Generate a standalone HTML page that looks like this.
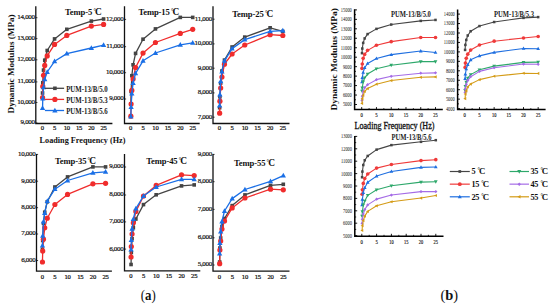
<!DOCTYPE html>
<html><head><meta charset="utf-8"><style>
html,body{margin:0;padding:0;background:#fff;}
body{width:550px;height:305px;overflow:hidden;}
svg{display:block;}
</style></head><body>
<svg width="550" height="305" viewBox="0 0 550 305">
<rect width="550" height="305" fill="#fff"/>
<g font-family="&quot;Liberation Serif&quot;, serif">
<path d="M35.8,6.3 V123.5 H112.4" fill="none" stroke="#111" stroke-width="1.3"/>
<path d="M35.8,17.7 H37.40" stroke="#111" stroke-width="0.8"/>
<text x="34.70" y="19.10" font-size="7" text-anchor="end" fill="#111" stroke="#111" stroke-width="0.2" letter-spacing="-0.32">14,000</text>
<path d="M35.8,38.6 H37.40" stroke="#111" stroke-width="0.8"/>
<text x="34.70" y="40.00" font-size="7" text-anchor="end" fill="#111" stroke="#111" stroke-width="0.2" letter-spacing="-0.32">13,000</text>
<path d="M35.8,59.8 H37.40" stroke="#111" stroke-width="0.8"/>
<text x="34.70" y="61.20" font-size="7" text-anchor="end" fill="#111" stroke="#111" stroke-width="0.2" letter-spacing="-0.32">12,000</text>
<path d="M35.8,81.9 H37.40" stroke="#111" stroke-width="0.8"/>
<text x="34.70" y="83.30" font-size="7" text-anchor="end" fill="#111" stroke="#111" stroke-width="0.2" letter-spacing="-0.32">11,000</text>
<path d="M35.8,102.5 H37.40" stroke="#111" stroke-width="0.8"/>
<text x="34.70" y="103.90" font-size="7" text-anchor="end" fill="#111" stroke="#111" stroke-width="0.2" letter-spacing="-0.32">10,000</text>
<path d="M35.8,123.0 H37.40" stroke="#111" stroke-width="0.8"/>
<text x="34.70" y="124.40" font-size="7" text-anchor="end" fill="#111" stroke="#111" stroke-width="0.2" letter-spacing="-0.32">9,000</text>
<text x="42.30" y="130.4" font-size="6.6" text-anchor="middle" fill="#111" stroke="#111" stroke-width="0.22" letter-spacing="-0.2">0</text>
<text x="54.56" y="130.4" font-size="6.6" text-anchor="middle" fill="#111" stroke="#111" stroke-width="0.22" letter-spacing="-0.2">5</text>
<text x="66.82" y="130.4" font-size="6.6" text-anchor="middle" fill="#111" stroke="#111" stroke-width="0.22" letter-spacing="-0.2">10</text>
<text x="79.08" y="130.4" font-size="6.6" text-anchor="middle" fill="#111" stroke="#111" stroke-width="0.22" letter-spacing="-0.2">15</text>
<text x="91.34" y="130.4" font-size="6.6" text-anchor="middle" fill="#111" stroke="#111" stroke-width="0.22" letter-spacing="-0.2">20</text>
<text x="103.60" y="130.4" font-size="6.6" text-anchor="middle" fill="#111" stroke="#111" stroke-width="0.22" letter-spacing="-0.2">25</text>
<text x="65" y="15.3" font-size="8.6" font-weight="bold" fill="#111" letter-spacing="-0.12">Temp-5<tspan dx="1.3" font-size="6.2" dy="-1.9">°</tspan><tspan dx="-0.8" dy="1.9" font-size="9.4">C</tspan></text>
<polyline points="42.55,93.00 42.79,82.70 43.53,70.10 44.75,60.20 47.20,50.50 54.56,38.90 66.82,29.30 91.34,21.10 103.60,19.00" fill="none" stroke="#444444" stroke-width="1.3" stroke-linejoin="round"/>
<rect x="40.75" y="91.20" width="3.6" height="3.6" fill="#444444"/>
<rect x="40.99" y="80.90" width="3.6" height="3.6" fill="#444444"/>
<rect x="41.73" y="68.30" width="3.6" height="3.6" fill="#444444"/>
<rect x="42.95" y="58.40" width="3.6" height="3.6" fill="#444444"/>
<rect x="45.40" y="48.70" width="3.6" height="3.6" fill="#444444"/>
<rect x="52.76" y="37.10" width="3.6" height="3.6" fill="#444444"/>
<rect x="65.02" y="27.50" width="3.6" height="3.6" fill="#444444"/>
<rect x="89.54" y="19.30" width="3.6" height="3.6" fill="#444444"/>
<rect x="101.80" y="17.20" width="3.6" height="3.6" fill="#444444"/>
<polyline points="42.55,97.60 42.79,86.40 43.53,75.30 44.75,65.40 47.20,55.90 54.56,44.40 66.82,35.40 91.34,26.10 103.60,24.40" fill="none" stroke="#f02c2c" stroke-width="1.3" stroke-linejoin="round"/>
<circle cx="42.55" cy="97.60" r="2.6" fill="#f02c2c"/>
<circle cx="42.79" cy="86.40" r="2.6" fill="#f02c2c"/>
<circle cx="43.53" cy="75.30" r="2.6" fill="#f02c2c"/>
<circle cx="44.75" cy="65.40" r="2.6" fill="#f02c2c"/>
<circle cx="47.20" cy="55.90" r="2.6" fill="#f02c2c"/>
<circle cx="54.56" cy="44.40" r="2.6" fill="#f02c2c"/>
<circle cx="66.82" cy="35.40" r="2.6" fill="#f02c2c"/>
<circle cx="91.34" cy="26.10" r="2.6" fill="#f02c2c"/>
<circle cx="103.60" cy="24.40" r="2.6" fill="#f02c2c"/>
<polyline points="42.55,108.20 42.79,98.60 43.53,87.40 44.75,79.30 47.20,72.00 54.56,61.30 66.82,53.60 91.34,48.00 103.60,45.20" fill="none" stroke="#1a6fe6" stroke-width="1.3" stroke-linejoin="round"/>
<polygon points="42.55,105.34 39.90,110.11 45.20,110.11" fill="#1a6fe6"/>
<polygon points="42.79,95.74 40.14,100.51 45.44,100.51" fill="#1a6fe6"/>
<polygon points="43.53,84.54 40.88,89.31 46.18,89.31" fill="#1a6fe6"/>
<polygon points="44.75,76.44 42.10,81.21 47.40,81.21" fill="#1a6fe6"/>
<polygon points="47.20,69.14 44.55,73.91 49.85,73.91" fill="#1a6fe6"/>
<polygon points="54.56,58.44 51.91,63.21 57.21,63.21" fill="#1a6fe6"/>
<polygon points="66.82,50.74 64.17,55.51 69.47,55.51" fill="#1a6fe6"/>
<polygon points="91.34,45.14 88.69,49.91 93.99,49.91" fill="#1a6fe6"/>
<polygon points="103.60,42.34 100.95,47.11 106.25,47.11" fill="#1a6fe6"/>
<path d="M124.5,6.3 V123.5 H199.7" fill="none" stroke="#111" stroke-width="1.3"/>
<path d="M124.5,19.4 H126.10" stroke="#111" stroke-width="0.8"/>
<text x="123.40" y="20.80" font-size="7" text-anchor="end" fill="#111" stroke="#111" stroke-width="0.2" letter-spacing="-0.32">12,000</text>
<path d="M124.5,46.7 H126.10" stroke="#111" stroke-width="0.8"/>
<text x="123.40" y="48.10" font-size="7" text-anchor="end" fill="#111" stroke="#111" stroke-width="0.2" letter-spacing="-0.32">11,000</text>
<path d="M124.5,72.7 H126.10" stroke="#111" stroke-width="0.8"/>
<text x="123.40" y="74.10" font-size="7" text-anchor="end" fill="#111" stroke="#111" stroke-width="0.2" letter-spacing="-0.32">10,000</text>
<path d="M124.5,99.0 H126.10" stroke="#111" stroke-width="0.8"/>
<text x="123.40" y="100.40" font-size="7" text-anchor="end" fill="#111" stroke="#111" stroke-width="0.2" letter-spacing="-0.32">9,000</text>
<text x="130.60" y="130.4" font-size="6.6" text-anchor="middle" fill="#111" stroke="#111" stroke-width="0.22" letter-spacing="-0.2">0</text>
<text x="143.03" y="130.4" font-size="6.6" text-anchor="middle" fill="#111" stroke="#111" stroke-width="0.22" letter-spacing="-0.2">5</text>
<text x="155.45" y="130.4" font-size="6.6" text-anchor="middle" fill="#111" stroke="#111" stroke-width="0.22" letter-spacing="-0.2">10</text>
<text x="167.88" y="130.4" font-size="6.6" text-anchor="middle" fill="#111" stroke="#111" stroke-width="0.22" letter-spacing="-0.2">15</text>
<text x="180.30" y="130.4" font-size="6.6" text-anchor="middle" fill="#111" stroke="#111" stroke-width="0.22" letter-spacing="-0.2">20</text>
<text x="192.72" y="130.4" font-size="6.6" text-anchor="middle" fill="#111" stroke="#111" stroke-width="0.22" letter-spacing="-0.2">25</text>
<text x="138.4" y="15.3" font-size="8.6" font-weight="bold" fill="#111" letter-spacing="-0.12">Temp-15<tspan dx="1.3" font-size="6.2" dy="-1.9">°</tspan><tspan dx="-0.8" dy="1.9" font-size="9.4">C</tspan></text>
<polyline points="130.85,104.00 131.10,91.50 131.84,75.70 133.09,64.80 135.57,53.40 143.03,39.20 155.45,28.90 180.30,17.40 192.72,17.40" fill="none" stroke="#444444" stroke-width="1.3" stroke-linejoin="round"/>
<rect x="129.05" y="102.20" width="3.6" height="3.6" fill="#444444"/>
<rect x="129.30" y="89.70" width="3.6" height="3.6" fill="#444444"/>
<rect x="130.04" y="73.90" width="3.6" height="3.6" fill="#444444"/>
<rect x="131.28" y="63.00" width="3.6" height="3.6" fill="#444444"/>
<rect x="133.77" y="51.60" width="3.6" height="3.6" fill="#444444"/>
<rect x="141.22" y="37.40" width="3.6" height="3.6" fill="#444444"/>
<rect x="153.65" y="27.10" width="3.6" height="3.6" fill="#444444"/>
<rect x="178.50" y="15.60" width="3.6" height="3.6" fill="#444444"/>
<rect x="190.92" y="15.60" width="3.6" height="3.6" fill="#444444"/>
<polyline points="130.85,116.20 131.10,104.00 131.84,90.40 133.09,78.90 135.57,67.50 143.03,53.10 155.45,42.50 180.30,33.40 192.72,29.30" fill="none" stroke="#f02c2c" stroke-width="1.3" stroke-linejoin="round"/>
<circle cx="130.85" cy="116.20" r="2.6" fill="#f02c2c"/>
<circle cx="131.10" cy="104.00" r="2.6" fill="#f02c2c"/>
<circle cx="131.84" cy="90.40" r="2.6" fill="#f02c2c"/>
<circle cx="133.09" cy="78.90" r="2.6" fill="#f02c2c"/>
<circle cx="135.57" cy="67.50" r="2.6" fill="#f02c2c"/>
<circle cx="143.03" cy="53.10" r="2.6" fill="#f02c2c"/>
<circle cx="155.45" cy="42.50" r="2.6" fill="#f02c2c"/>
<circle cx="180.30" cy="33.40" r="2.6" fill="#f02c2c"/>
<circle cx="192.72" cy="29.30" r="2.6" fill="#f02c2c"/>
<polyline points="130.85,116.70 131.10,107.20 131.84,93.60 133.09,83.10 135.57,73.40 143.03,60.80 155.45,53.00 180.30,44.80 192.72,42.80" fill="none" stroke="#1a6fe6" stroke-width="1.3" stroke-linejoin="round"/>
<polygon points="130.85,113.84 128.20,118.61 133.50,118.61" fill="#1a6fe6"/>
<polygon points="131.10,104.34 128.45,109.11 133.75,109.11" fill="#1a6fe6"/>
<polygon points="131.84,90.74 129.19,95.51 134.49,95.51" fill="#1a6fe6"/>
<polygon points="133.09,80.24 130.44,85.01 135.74,85.01" fill="#1a6fe6"/>
<polygon points="135.57,70.54 132.92,75.31 138.22,75.31" fill="#1a6fe6"/>
<polygon points="143.03,57.94 140.38,62.71 145.68,62.71" fill="#1a6fe6"/>
<polygon points="155.45,50.14 152.80,54.91 158.10,54.91" fill="#1a6fe6"/>
<polygon points="180.30,41.94 177.65,46.71 182.95,46.71" fill="#1a6fe6"/>
<polygon points="192.72,39.94 190.07,44.71 195.38,44.71" fill="#1a6fe6"/>
<path d="M213.0,6.3 V123.5 H289.5" fill="none" stroke="#111" stroke-width="1.3"/>
<path d="M213.0,19.2 H214.60" stroke="#111" stroke-width="0.8"/>
<text x="211.90" y="20.60" font-size="7" text-anchor="end" fill="#111" stroke="#111" stroke-width="0.2" letter-spacing="-0.32">11,000</text>
<path d="M213.0,43.9 H214.60" stroke="#111" stroke-width="0.8"/>
<text x="211.90" y="45.30" font-size="7" text-anchor="end" fill="#111" stroke="#111" stroke-width="0.2" letter-spacing="-0.32">10,000</text>
<path d="M213.0,68.2 H214.60" stroke="#111" stroke-width="0.8"/>
<text x="211.90" y="69.60" font-size="7" text-anchor="end" fill="#111" stroke="#111" stroke-width="0.2" letter-spacing="-0.32">9,000</text>
<path d="M213.0,92.9 H214.60" stroke="#111" stroke-width="0.8"/>
<text x="211.90" y="94.30" font-size="7" text-anchor="end" fill="#111" stroke="#111" stroke-width="0.2" letter-spacing="-0.32">8,000</text>
<path d="M213.0,117.2 H214.60" stroke="#111" stroke-width="0.8"/>
<text x="211.90" y="118.60" font-size="7" text-anchor="end" fill="#111" stroke="#111" stroke-width="0.2" letter-spacing="-0.32">7,000</text>
<text x="219.40" y="130.4" font-size="6.6" text-anchor="middle" fill="#111" stroke="#111" stroke-width="0.22" letter-spacing="-0.2">0</text>
<text x="232.08" y="130.4" font-size="6.6" text-anchor="middle" fill="#111" stroke="#111" stroke-width="0.22" letter-spacing="-0.2">5</text>
<text x="244.76" y="130.4" font-size="6.6" text-anchor="middle" fill="#111" stroke="#111" stroke-width="0.22" letter-spacing="-0.2">10</text>
<text x="257.44" y="130.4" font-size="6.6" text-anchor="middle" fill="#111" stroke="#111" stroke-width="0.22" letter-spacing="-0.2">15</text>
<text x="270.12" y="130.4" font-size="6.6" text-anchor="middle" fill="#111" stroke="#111" stroke-width="0.22" letter-spacing="-0.2">20</text>
<text x="282.80" y="130.4" font-size="6.6" text-anchor="middle" fill="#111" stroke="#111" stroke-width="0.22" letter-spacing="-0.2">25</text>
<text x="232.3" y="17.1" font-size="8.6" font-weight="bold" fill="#111" letter-spacing="-0.12">Temp-25<tspan dx="1.3" font-size="6.2" dy="-1.9">°</tspan><tspan dx="-0.8" dy="1.9" font-size="9.4">C</tspan></text>
<polyline points="219.65,107.70 219.91,96.80 220.67,83.10 221.94,71.00 224.47,60.10 232.08,47.00 244.76,37.10 270.12,27.80 282.80,31.40" fill="none" stroke="#444444" stroke-width="1.3" stroke-linejoin="round"/>
<rect x="217.85" y="105.90" width="3.6" height="3.6" fill="#444444"/>
<rect x="218.11" y="95.00" width="3.6" height="3.6" fill="#444444"/>
<rect x="218.87" y="81.30" width="3.6" height="3.6" fill="#444444"/>
<rect x="220.14" y="69.20" width="3.6" height="3.6" fill="#444444"/>
<rect x="222.67" y="58.30" width="3.6" height="3.6" fill="#444444"/>
<rect x="230.28" y="45.20" width="3.6" height="3.6" fill="#444444"/>
<rect x="242.96" y="35.30" width="3.6" height="3.6" fill="#444444"/>
<rect x="268.32" y="26.00" width="3.6" height="3.6" fill="#444444"/>
<rect x="281.00" y="29.60" width="3.6" height="3.6" fill="#444444"/>
<polyline points="219.65,113.20 219.91,101.20 220.67,88.00 221.94,77.00 224.47,64.20 232.08,54.00 244.76,45.00 270.12,34.70 282.80,35.50" fill="none" stroke="#f02c2c" stroke-width="1.3" stroke-linejoin="round"/>
<circle cx="219.65" cy="113.20" r="2.6" fill="#f02c2c"/>
<circle cx="219.91" cy="101.20" r="2.6" fill="#f02c2c"/>
<circle cx="220.67" cy="88.00" r="2.6" fill="#f02c2c"/>
<circle cx="221.94" cy="77.00" r="2.6" fill="#f02c2c"/>
<circle cx="224.47" cy="64.20" r="2.6" fill="#f02c2c"/>
<circle cx="232.08" cy="54.00" r="2.6" fill="#f02c2c"/>
<circle cx="244.76" cy="45.00" r="2.6" fill="#f02c2c"/>
<circle cx="270.12" cy="34.70" r="2.6" fill="#f02c2c"/>
<circle cx="282.80" cy="35.50" r="2.6" fill="#f02c2c"/>
<polyline points="219.65,105.50 219.91,94.60 220.67,81.40 221.94,71.50 224.47,60.90 232.08,48.60 244.76,39.60 270.12,31.40 282.80,30.60" fill="none" stroke="#1a6fe6" stroke-width="1.3" stroke-linejoin="round"/>
<polygon points="219.65,102.64 217.00,107.41 222.30,107.41" fill="#1a6fe6"/>
<polygon points="219.91,91.74 217.26,96.51 222.56,96.51" fill="#1a6fe6"/>
<polygon points="220.67,78.54 218.02,83.31 223.32,83.31" fill="#1a6fe6"/>
<polygon points="221.94,68.64 219.29,73.41 224.59,73.41" fill="#1a6fe6"/>
<polygon points="224.47,58.04 221.82,62.81 227.12,62.81" fill="#1a6fe6"/>
<polygon points="232.08,45.74 229.43,50.51 234.73,50.51" fill="#1a6fe6"/>
<polygon points="244.76,36.74 242.11,41.51 247.41,41.51" fill="#1a6fe6"/>
<polygon points="270.12,28.54 267.47,33.31 272.77,33.31" fill="#1a6fe6"/>
<polygon points="282.80,27.74 280.15,32.51 285.45,32.51" fill="#1a6fe6"/>
<path d="M36.5,154 V271.1 H111.9" fill="none" stroke="#111" stroke-width="1.3"/>
<path d="M36.5,154.4 H38.10" stroke="#111" stroke-width="0.8"/>
<text x="35.40" y="155.80" font-size="7" text-anchor="end" fill="#111" stroke="#111" stroke-width="0.2" letter-spacing="-0.32">10,000</text>
<path d="M36.5,181.2 H38.10" stroke="#111" stroke-width="0.8"/>
<text x="35.40" y="182.60" font-size="7" text-anchor="end" fill="#111" stroke="#111" stroke-width="0.2" letter-spacing="-0.32">9,000</text>
<path d="M36.5,207.7 H38.10" stroke="#111" stroke-width="0.8"/>
<text x="35.40" y="209.10" font-size="7" text-anchor="end" fill="#111" stroke="#111" stroke-width="0.2" letter-spacing="-0.32">8,000</text>
<path d="M36.5,234.0 H38.10" stroke="#111" stroke-width="0.8"/>
<text x="35.40" y="235.40" font-size="7" text-anchor="end" fill="#111" stroke="#111" stroke-width="0.2" letter-spacing="-0.32">7,000</text>
<path d="M36.5,260.5 H38.10" stroke="#111" stroke-width="0.8"/>
<text x="35.40" y="261.90" font-size="7" text-anchor="end" fill="#111" stroke="#111" stroke-width="0.2" letter-spacing="-0.32">6,000</text>
<text x="42.20" y="278.5" font-size="6.6" text-anchor="middle" fill="#111" stroke="#111" stroke-width="0.22" letter-spacing="-0.2">0</text>
<text x="54.88" y="278.5" font-size="6.6" text-anchor="middle" fill="#111" stroke="#111" stroke-width="0.22" letter-spacing="-0.2">5</text>
<text x="67.55" y="278.5" font-size="6.6" text-anchor="middle" fill="#111" stroke="#111" stroke-width="0.22" letter-spacing="-0.2">10</text>
<text x="80.23" y="278.5" font-size="6.6" text-anchor="middle" fill="#111" stroke="#111" stroke-width="0.22" letter-spacing="-0.2">15</text>
<text x="92.90" y="278.5" font-size="6.6" text-anchor="middle" fill="#111" stroke="#111" stroke-width="0.22" letter-spacing="-0.2">20</text>
<text x="105.58" y="278.5" font-size="6.6" text-anchor="middle" fill="#111" stroke="#111" stroke-width="0.22" letter-spacing="-0.2">25</text>
<text x="55" y="163.89999999999998" font-size="8.6" font-weight="bold" fill="#111" letter-spacing="-0.12">Temp-35<tspan dx="1.3" font-size="6.2" dy="-1.9">°</tspan><tspan dx="-0.8" dy="1.9" font-size="9.4">C</tspan></text>
<polyline points="42.45,249.30 42.71,240.50 43.47,223.30 44.73,212.20 47.27,201.80 54.88,187.00 67.55,176.90 92.90,166.90 105.58,166.90" fill="none" stroke="#444444" stroke-width="1.3" stroke-linejoin="round"/>
<rect x="40.65" y="247.50" width="3.6" height="3.6" fill="#444444"/>
<rect x="40.91" y="238.70" width="3.6" height="3.6" fill="#444444"/>
<rect x="41.67" y="221.50" width="3.6" height="3.6" fill="#444444"/>
<rect x="42.94" y="210.40" width="3.6" height="3.6" fill="#444444"/>
<rect x="45.47" y="200.00" width="3.6" height="3.6" fill="#444444"/>
<rect x="53.08" y="185.20" width="3.6" height="3.6" fill="#444444"/>
<rect x="65.75" y="175.10" width="3.6" height="3.6" fill="#444444"/>
<rect x="91.10" y="165.10" width="3.6" height="3.6" fill="#444444"/>
<rect x="103.78" y="165.10" width="3.6" height="3.6" fill="#444444"/>
<polyline points="42.45,262.00 42.71,251.10 43.47,239.20 44.73,227.80 47.27,218.20 54.88,204.50 67.55,194.40 92.90,183.80 105.58,183.30" fill="none" stroke="#f02c2c" stroke-width="1.3" stroke-linejoin="round"/>
<circle cx="42.45" cy="262.00" r="2.6" fill="#f02c2c"/>
<circle cx="42.71" cy="251.10" r="2.6" fill="#f02c2c"/>
<circle cx="43.47" cy="239.20" r="2.6" fill="#f02c2c"/>
<circle cx="44.73" cy="227.80" r="2.6" fill="#f02c2c"/>
<circle cx="47.27" cy="218.20" r="2.6" fill="#f02c2c"/>
<circle cx="54.88" cy="204.50" r="2.6" fill="#f02c2c"/>
<circle cx="67.55" cy="194.40" r="2.6" fill="#f02c2c"/>
<circle cx="92.90" cy="183.80" r="2.6" fill="#f02c2c"/>
<circle cx="105.58" cy="183.30" r="2.6" fill="#f02c2c"/>
<polyline points="42.45,245.50 42.71,235.90 43.47,221.50 44.73,213.20 47.27,201.00 54.88,189.20 67.55,180.50 92.90,172.80 105.58,171.80" fill="none" stroke="#1a6fe6" stroke-width="1.3" stroke-linejoin="round"/>
<polygon points="42.45,242.64 39.80,247.41 45.10,247.41" fill="#1a6fe6"/>
<polygon points="42.71,233.04 40.06,237.81 45.36,237.81" fill="#1a6fe6"/>
<polygon points="43.47,218.64 40.82,223.41 46.12,223.41" fill="#1a6fe6"/>
<polygon points="44.73,210.34 42.09,215.11 47.38,215.11" fill="#1a6fe6"/>
<polygon points="47.27,198.14 44.62,202.91 49.92,202.91" fill="#1a6fe6"/>
<polygon points="54.88,186.34 52.23,191.11 57.52,191.11" fill="#1a6fe6"/>
<polygon points="67.55,177.64 64.90,182.41 70.20,182.41" fill="#1a6fe6"/>
<polygon points="92.90,169.94 90.25,174.71 95.55,174.71" fill="#1a6fe6"/>
<polygon points="105.58,168.94 102.92,173.71 108.23,173.71" fill="#1a6fe6"/>
<path d="M124.5,154 V270.8 H200.3" fill="none" stroke="#111" stroke-width="1.3"/>
<path d="M124.5,167.0 H126.10" stroke="#111" stroke-width="0.8"/>
<text x="123.40" y="168.40" font-size="7" text-anchor="end" fill="#111" stroke="#111" stroke-width="0.2" letter-spacing="-0.32">9,000</text>
<path d="M124.5,195.0 H126.10" stroke="#111" stroke-width="0.8"/>
<text x="123.40" y="196.40" font-size="7" text-anchor="end" fill="#111" stroke="#111" stroke-width="0.2" letter-spacing="-0.32">8,000</text>
<path d="M124.5,221.9 H126.10" stroke="#111" stroke-width="0.8"/>
<text x="123.40" y="223.30" font-size="7" text-anchor="end" fill="#111" stroke="#111" stroke-width="0.2" letter-spacing="-0.32">7,000</text>
<path d="M124.5,249.1 H126.10" stroke="#111" stroke-width="0.8"/>
<text x="123.40" y="250.50" font-size="7" text-anchor="end" fill="#111" stroke="#111" stroke-width="0.2" letter-spacing="-0.32">6,000</text>
<text x="130.80" y="278.2" font-size="6.6" text-anchor="middle" fill="#111" stroke="#111" stroke-width="0.22" letter-spacing="-0.2">0</text>
<text x="143.48" y="278.2" font-size="6.6" text-anchor="middle" fill="#111" stroke="#111" stroke-width="0.22" letter-spacing="-0.2">5</text>
<text x="156.16" y="278.2" font-size="6.6" text-anchor="middle" fill="#111" stroke="#111" stroke-width="0.22" letter-spacing="-0.2">10</text>
<text x="168.84" y="278.2" font-size="6.6" text-anchor="middle" fill="#111" stroke="#111" stroke-width="0.22" letter-spacing="-0.2">15</text>
<text x="181.52" y="278.2" font-size="6.6" text-anchor="middle" fill="#111" stroke="#111" stroke-width="0.22" letter-spacing="-0.2">20</text>
<text x="194.20" y="278.2" font-size="6.6" text-anchor="middle" fill="#111" stroke="#111" stroke-width="0.22" letter-spacing="-0.2">25</text>
<text x="146.2" y="164.29999999999998" font-size="8.6" font-weight="bold" fill="#111" letter-spacing="-0.12">Temp-45<tspan dx="1.3" font-size="6.2" dy="-1.9">°</tspan><tspan dx="-0.8" dy="1.9" font-size="9.4">C</tspan></text>
<polyline points="131.05,264.50 131.31,252.50 132.07,238.80 133.34,227.80 135.87,219.00 143.48,204.60 156.16,194.80 181.52,185.90 194.20,184.90" fill="none" stroke="#444444" stroke-width="1.3" stroke-linejoin="round"/>
<rect x="129.25" y="262.70" width="3.6" height="3.6" fill="#444444"/>
<rect x="129.51" y="250.70" width="3.6" height="3.6" fill="#444444"/>
<rect x="130.27" y="237.00" width="3.6" height="3.6" fill="#444444"/>
<rect x="131.54" y="226.00" width="3.6" height="3.6" fill="#444444"/>
<rect x="134.07" y="217.20" width="3.6" height="3.6" fill="#444444"/>
<rect x="141.68" y="202.80" width="3.6" height="3.6" fill="#444444"/>
<rect x="154.36" y="193.00" width="3.6" height="3.6" fill="#444444"/>
<rect x="179.72" y="184.10" width="3.6" height="3.6" fill="#444444"/>
<rect x="192.40" y="183.10" width="3.6" height="3.6" fill="#444444"/>
<polyline points="131.05,257.00 131.31,246.50 132.07,234.00 133.34,222.80 135.87,211.40 143.48,196.10 156.16,185.40 181.52,174.80 194.20,175.60" fill="none" stroke="#f02c2c" stroke-width="1.3" stroke-linejoin="round"/>
<circle cx="131.05" cy="257.00" r="2.6" fill="#f02c2c"/>
<circle cx="131.31" cy="246.50" r="2.6" fill="#f02c2c"/>
<circle cx="132.07" cy="234.00" r="2.6" fill="#f02c2c"/>
<circle cx="133.34" cy="222.80" r="2.6" fill="#f02c2c"/>
<circle cx="135.87" cy="211.40" r="2.6" fill="#f02c2c"/>
<circle cx="143.48" cy="196.10" r="2.6" fill="#f02c2c"/>
<circle cx="156.16" cy="185.40" r="2.6" fill="#f02c2c"/>
<circle cx="181.52" cy="174.80" r="2.6" fill="#f02c2c"/>
<circle cx="194.20" cy="175.60" r="2.6" fill="#f02c2c"/>
<polyline points="131.05,249.60 131.31,240.20 132.07,228.80 133.34,219.00 135.87,208.70 143.48,196.00 156.16,187.00 181.52,179.30 194.20,179.30" fill="none" stroke="#1a6fe6" stroke-width="1.3" stroke-linejoin="round"/>
<polygon points="131.05,246.74 128.40,251.51 133.70,251.51" fill="#1a6fe6"/>
<polygon points="131.31,237.34 128.66,242.11 133.96,242.11" fill="#1a6fe6"/>
<polygon points="132.07,225.94 129.42,230.71 134.72,230.71" fill="#1a6fe6"/>
<polygon points="133.34,216.14 130.69,220.91 135.99,220.91" fill="#1a6fe6"/>
<polygon points="135.87,205.84 133.22,210.61 138.52,210.61" fill="#1a6fe6"/>
<polygon points="143.48,193.14 140.83,197.91 146.13,197.91" fill="#1a6fe6"/>
<polygon points="156.16,184.14 153.51,188.91 158.81,188.91" fill="#1a6fe6"/>
<polygon points="181.52,176.44 178.87,181.21 184.17,181.21" fill="#1a6fe6"/>
<polygon points="194.20,176.44 191.55,181.21 196.85,181.21" fill="#1a6fe6"/>
<path d="M213.0,154 V271.1 H289.5" fill="none" stroke="#111" stroke-width="1.3"/>
<path d="M213.0,154.4 H214.60" stroke="#111" stroke-width="0.8"/>
<text x="211.90" y="155.80" font-size="7" text-anchor="end" fill="#111" stroke="#111" stroke-width="0.2" letter-spacing="-0.32">9,000</text>
<path d="M213.0,181.7 H214.60" stroke="#111" stroke-width="0.8"/>
<text x="211.90" y="183.10" font-size="7" text-anchor="end" fill="#111" stroke="#111" stroke-width="0.2" letter-spacing="-0.32">8,000</text>
<path d="M213.0,209.4 H214.60" stroke="#111" stroke-width="0.8"/>
<text x="211.90" y="210.80" font-size="7" text-anchor="end" fill="#111" stroke="#111" stroke-width="0.2" letter-spacing="-0.32">7,000</text>
<path d="M213.0,237.8 H214.60" stroke="#111" stroke-width="0.8"/>
<text x="211.90" y="239.20" font-size="7" text-anchor="end" fill="#111" stroke="#111" stroke-width="0.2" letter-spacing="-0.32">6,000</text>
<path d="M213.0,265.0 H214.60" stroke="#111" stroke-width="0.8"/>
<text x="211.90" y="266.40" font-size="7" text-anchor="end" fill="#111" stroke="#111" stroke-width="0.2" letter-spacing="-0.32">5,000</text>
<text x="219.40" y="278.5" font-size="6.6" text-anchor="middle" fill="#111" stroke="#111" stroke-width="0.22" letter-spacing="-0.2">0</text>
<text x="232.18" y="278.5" font-size="6.6" text-anchor="middle" fill="#111" stroke="#111" stroke-width="0.22" letter-spacing="-0.2">5</text>
<text x="244.96" y="278.5" font-size="6.6" text-anchor="middle" fill="#111" stroke="#111" stroke-width="0.22" letter-spacing="-0.2">10</text>
<text x="257.74" y="278.5" font-size="6.6" text-anchor="middle" fill="#111" stroke="#111" stroke-width="0.22" letter-spacing="-0.2">15</text>
<text x="270.52" y="278.5" font-size="6.6" text-anchor="middle" fill="#111" stroke="#111" stroke-width="0.22" letter-spacing="-0.2">20</text>
<text x="283.30" y="278.5" font-size="6.6" text-anchor="middle" fill="#111" stroke="#111" stroke-width="0.22" letter-spacing="-0.2">25</text>
<text x="234" y="165.79999999999998" font-size="8.6" font-weight="bold" fill="#111" letter-spacing="-0.12">Temp-55<tspan dx="1.3" font-size="6.2" dy="-1.9">°</tspan><tspan dx="-0.8" dy="1.9" font-size="9.4">C</tspan></text>
<polyline points="219.66,262.00 219.91,248.00 220.68,238.00 221.96,226.50 224.51,218.50 232.18,205.60 244.96,194.90 270.52,185.40 283.30,184.30" fill="none" stroke="#444444" stroke-width="1.3" stroke-linejoin="round"/>
<rect x="217.86" y="260.20" width="3.6" height="3.6" fill="#444444"/>
<rect x="218.11" y="246.20" width="3.6" height="3.6" fill="#444444"/>
<rect x="218.88" y="236.20" width="3.6" height="3.6" fill="#444444"/>
<rect x="220.16" y="224.70" width="3.6" height="3.6" fill="#444444"/>
<rect x="222.71" y="216.70" width="3.6" height="3.6" fill="#444444"/>
<rect x="230.38" y="203.80" width="3.6" height="3.6" fill="#444444"/>
<rect x="243.16" y="193.10" width="3.6" height="3.6" fill="#444444"/>
<rect x="268.72" y="183.60" width="3.6" height="3.6" fill="#444444"/>
<rect x="281.50" y="182.50" width="3.6" height="3.6" fill="#444444"/>
<polyline points="219.66,263.70 219.91,250.00 220.68,241.00 221.96,229.10 224.51,221.00 232.18,207.90 244.96,198.00 270.52,189.20 283.30,189.80" fill="none" stroke="#f02c2c" stroke-width="1.3" stroke-linejoin="round"/>
<circle cx="219.66" cy="263.70" r="2.6" fill="#f02c2c"/>
<circle cx="219.91" cy="250.00" r="2.6" fill="#f02c2c"/>
<circle cx="220.68" cy="241.00" r="2.6" fill="#f02c2c"/>
<circle cx="221.96" cy="229.10" r="2.6" fill="#f02c2c"/>
<circle cx="224.51" cy="221.00" r="2.6" fill="#f02c2c"/>
<circle cx="232.18" cy="207.90" r="2.6" fill="#f02c2c"/>
<circle cx="244.96" cy="198.00" r="2.6" fill="#f02c2c"/>
<circle cx="270.52" cy="189.20" r="2.6" fill="#f02c2c"/>
<circle cx="283.30" cy="189.80" r="2.6" fill="#f02c2c"/>
<polyline points="219.66,253.60 219.91,243.00 220.68,231.60 221.96,221.50 224.51,211.00 232.18,198.60 244.96,189.50 270.52,181.30 283.30,175.60" fill="none" stroke="#1a6fe6" stroke-width="1.3" stroke-linejoin="round"/>
<polygon points="219.66,250.74 217.01,255.51 222.31,255.51" fill="#1a6fe6"/>
<polygon points="219.91,240.14 217.26,244.91 222.56,244.91" fill="#1a6fe6"/>
<polygon points="220.68,228.74 218.03,233.51 223.33,233.51" fill="#1a6fe6"/>
<polygon points="221.96,218.64 219.31,223.41 224.61,223.41" fill="#1a6fe6"/>
<polygon points="224.51,208.14 221.86,212.91 227.16,212.91" fill="#1a6fe6"/>
<polygon points="232.18,195.74 229.53,200.51 234.83,200.51" fill="#1a6fe6"/>
<polygon points="244.96,186.64 242.31,191.41 247.61,191.41" fill="#1a6fe6"/>
<polygon points="270.52,178.44 267.87,183.21 273.17,183.21" fill="#1a6fe6"/>
<polygon points="283.30,172.74 280.65,177.51 285.95,177.51" fill="#1a6fe6"/>
<path d="M44.9,88.3 H64.1" stroke="#444444" stroke-width="1.3"/>
<rect x="53.10" y="86.50" width="3.6" height="3.6" fill="#444444"/>
<text x="66.2" y="91.6" font-size="8" font-weight="bold" fill="#1a1a1a" textLength="41.5" lengthAdjust="spacingAndGlyphs">PUM-13/B/5.0</text>
<path d="M44.9,99.39999999999999 H64.1" stroke="#f02c2c" stroke-width="1.3"/>
<circle cx="54.90" cy="99.40" r="2.6" fill="#f02c2c"/>
<text x="66.2" y="102.69999999999999" font-size="8" font-weight="bold" fill="#1a1a1a" textLength="41.5" lengthAdjust="spacingAndGlyphs">PUM-13/B/5.3</text>
<path d="M44.9,110.5 H64.1" stroke="#1a6fe6" stroke-width="1.3"/>
<polygon points="54.90,107.64 52.25,112.41 57.55,112.41" fill="#1a6fe6"/>
<text x="66.2" y="113.8" font-size="8" font-weight="bold" fill="#1a1a1a" textLength="41.5" lengthAdjust="spacingAndGlyphs">PUM-13/B/5.6</text>
<text x="39.6" y="142.6" font-size="9" font-weight="bold" fill="#111" textLength="85.9" lengthAdjust="spacingAndGlyphs">Loading Frequency (Hz)</text>
<text transform="translate(14.3,113.4) rotate(-90)" font-size="8.6" font-weight="bold" fill="#111" textLength="99" lengthAdjust="spacingAndGlyphs">Dynamic Modulus (MPa)</text>
<text x="140.8" y="299.8" font-size="14" fill="#111" textLength="15" lengthAdjust="spacingAndGlyphs">(<tspan font-weight="bold">a</tspan>)</text>
<text x="440.4" y="299.8" font-size="14" fill="#111" textLength="17.7" lengthAdjust="spacingAndGlyphs">(<tspan font-weight="bold">b</tspan>)</text>
</g>
<g font-family="&quot;Liberation Serif&quot;, serif">
<path d="M354.6,9.2 V109.5 H442.8" fill="none" stroke="#000" stroke-width="1.5"/>
<path d="M354.6,104.50 H357.0" stroke="#000" stroke-width="0.9"/>
<text x="342.90" y="106.40" font-size="5.6" fill="#111" textLength="8.9" lengthAdjust="spacingAndGlyphs">5000</text>
<path d="M354.6,95.04 H357.0" stroke="#000" stroke-width="0.9"/>
<text x="342.90" y="96.94" font-size="5.6" fill="#111" textLength="8.9" lengthAdjust="spacingAndGlyphs">6000</text>
<path d="M354.6,99.77 H356.0" stroke="#000" stroke-width="0.8"/>
<path d="M354.6,85.58 H357.0" stroke="#000" stroke-width="0.9"/>
<text x="342.90" y="87.48" font-size="5.6" fill="#111" textLength="8.9" lengthAdjust="spacingAndGlyphs">7000</text>
<path d="M354.6,90.31 H356.0" stroke="#000" stroke-width="0.8"/>
<path d="M354.6,76.12 H357.0" stroke="#000" stroke-width="0.9"/>
<text x="342.90" y="78.02" font-size="5.6" fill="#111" textLength="8.9" lengthAdjust="spacingAndGlyphs">8000</text>
<path d="M354.6,80.85 H356.0" stroke="#000" stroke-width="0.8"/>
<path d="M354.6,66.66 H357.0" stroke="#000" stroke-width="0.9"/>
<text x="342.90" y="68.56" font-size="5.6" fill="#111" textLength="8.9" lengthAdjust="spacingAndGlyphs">9000</text>
<path d="M354.6,71.39 H356.0" stroke="#000" stroke-width="0.8"/>
<path d="M354.6,57.20 H357.0" stroke="#000" stroke-width="0.9"/>
<text x="340.80" y="59.10" font-size="5.6" fill="#111" textLength="11.0" lengthAdjust="spacingAndGlyphs">10000</text>
<path d="M354.6,61.93 H356.0" stroke="#000" stroke-width="0.8"/>
<path d="M354.6,47.74 H357.0" stroke="#000" stroke-width="0.9"/>
<text x="340.80" y="49.64" font-size="5.6" fill="#111" textLength="11.0" lengthAdjust="spacingAndGlyphs">11000</text>
<path d="M354.6,52.47 H356.0" stroke="#000" stroke-width="0.8"/>
<path d="M354.6,38.28 H357.0" stroke="#000" stroke-width="0.9"/>
<text x="340.80" y="40.18" font-size="5.6" fill="#111" textLength="11.0" lengthAdjust="spacingAndGlyphs">12000</text>
<path d="M354.6,43.01 H356.0" stroke="#000" stroke-width="0.8"/>
<path d="M354.6,28.82 H357.0" stroke="#000" stroke-width="0.9"/>
<text x="340.80" y="30.72" font-size="5.6" fill="#111" textLength="11.0" lengthAdjust="spacingAndGlyphs">13000</text>
<path d="M354.6,33.55 H356.0" stroke="#000" stroke-width="0.8"/>
<path d="M354.6,19.36 H357.0" stroke="#000" stroke-width="0.9"/>
<text x="340.80" y="21.26" font-size="5.6" fill="#111" textLength="11.0" lengthAdjust="spacingAndGlyphs">14000</text>
<path d="M354.6,24.09 H356.0" stroke="#000" stroke-width="0.8"/>
<path d="M354.6,9.90 H357.0" stroke="#000" stroke-width="0.9"/>
<text x="340.80" y="11.80" font-size="5.6" fill="#111" textLength="11.0" lengthAdjust="spacingAndGlyphs">15000</text>
<path d="M354.6,14.63 H356.0" stroke="#000" stroke-width="0.8"/>
<path d="M361.70,109.5 V107.1" stroke="#000" stroke-width="0.9"/>
<path d="M369.08,109.5 V108.1" stroke="#000" stroke-width="0.8"/>
<text x="361.70" y="117.1" font-size="5.4" text-anchor="middle" fill="#000" stroke="#000" stroke-width="0.12" textLength="2.4" lengthAdjust="spacingAndGlyphs">0</text>
<path d="M376.46,109.5 V107.1" stroke="#000" stroke-width="0.9"/>
<path d="M383.84,109.5 V108.1" stroke="#000" stroke-width="0.8"/>
<text x="376.46" y="117.1" font-size="5.4" text-anchor="middle" fill="#000" stroke="#000" stroke-width="0.12" textLength="2.4" lengthAdjust="spacingAndGlyphs">5</text>
<path d="M391.22,109.5 V107.1" stroke="#000" stroke-width="0.9"/>
<path d="M398.60,109.5 V108.1" stroke="#000" stroke-width="0.8"/>
<text x="391.22" y="117.1" font-size="5.4" text-anchor="middle" fill="#000" stroke="#000" stroke-width="0.12" textLength="4.4" lengthAdjust="spacingAndGlyphs">10</text>
<path d="M405.98,109.5 V107.1" stroke="#000" stroke-width="0.9"/>
<path d="M413.36,109.5 V108.1" stroke="#000" stroke-width="0.8"/>
<text x="405.98" y="117.1" font-size="5.4" text-anchor="middle" fill="#000" stroke="#000" stroke-width="0.12" textLength="4.4" lengthAdjust="spacingAndGlyphs">15</text>
<path d="M420.74,109.5 V107.1" stroke="#000" stroke-width="0.9"/>
<path d="M428.12,109.5 V108.1" stroke="#000" stroke-width="0.8"/>
<text x="420.74" y="117.1" font-size="5.4" text-anchor="middle" fill="#000" stroke="#000" stroke-width="0.12" textLength="4.4" lengthAdjust="spacingAndGlyphs">20</text>
<path d="M435.50,109.5 V107.1" stroke="#000" stroke-width="0.9"/>
<text x="435.50" y="117.1" font-size="5.4" text-anchor="middle" fill="#000" stroke="#000" stroke-width="0.12" textLength="4.4" lengthAdjust="spacingAndGlyphs">25</text>
<text x="390.9" y="16.9" font-size="7.3" font-weight="bold" fill="#1a1a1a" textLength="40" lengthAdjust="spacingAndGlyphs">PUM-13/B/5.0</text>
<polyline points="362.00,53.15 362.29,48.53 363.18,42.88 364.65,38.43 367.60,34.08 376.46,28.87 391.22,24.57 420.74,20.89 435.50,19.94" fill="none" stroke="#454545" stroke-width="1.1" stroke-linejoin="round"/>
<rect x="360.74" y="51.89" width="2.52" height="2.52" fill="#454545"/>
<rect x="361.03" y="47.27" width="2.52" height="2.52" fill="#454545"/>
<rect x="361.92" y="41.62" width="2.52" height="2.52" fill="#454545"/>
<rect x="363.39" y="37.17" width="2.52" height="2.52" fill="#454545"/>
<rect x="366.34" y="32.82" width="2.52" height="2.52" fill="#454545"/>
<rect x="375.20" y="27.61" width="2.52" height="2.52" fill="#454545"/>
<rect x="389.96" y="23.31" width="2.52" height="2.52" fill="#454545"/>
<rect x="419.48" y="19.63" width="2.52" height="2.52" fill="#454545"/>
<rect x="434.24" y="18.68" width="2.52" height="2.52" fill="#454545"/>
<polyline points="362.00,68.41 362.29,63.95 363.18,58.32 364.65,54.43 367.60,50.36 376.46,45.30 391.22,41.63 420.74,37.53 435.50,37.53" fill="none" stroke="#ef3a3a" stroke-width="1.1" stroke-linejoin="round"/>
<circle cx="362.00" cy="68.41" r="1.8199999999999998" fill="#ef3a3a"/>
<circle cx="362.29" cy="63.95" r="1.8199999999999998" fill="#ef3a3a"/>
<circle cx="363.18" cy="58.32" r="1.8199999999999998" fill="#ef3a3a"/>
<circle cx="364.65" cy="54.43" r="1.8199999999999998" fill="#ef3a3a"/>
<circle cx="367.60" cy="50.36" r="1.8199999999999998" fill="#ef3a3a"/>
<circle cx="376.46" cy="45.30" r="1.8199999999999998" fill="#ef3a3a"/>
<circle cx="391.22" cy="41.63" r="1.8199999999999998" fill="#ef3a3a"/>
<circle cx="420.74" cy="37.53" r="1.8199999999999998" fill="#ef3a3a"/>
<circle cx="435.50" cy="37.53" r="1.8199999999999998" fill="#ef3a3a"/>
<polyline points="362.00,81.91 362.29,77.70 363.18,72.41 364.65,67.74 367.60,63.53 376.46,58.47 391.22,54.65 420.74,51.06 435.50,52.45" fill="none" stroke="#1f6fe0" stroke-width="1.1" stroke-linejoin="round"/>
<polygon points="362.00,79.91 360.14,83.25 363.85,83.25" fill="#1f6fe0"/>
<polygon points="362.29,75.70 360.44,79.04 364.15,79.04" fill="#1f6fe0"/>
<polygon points="363.18,70.41 361.32,73.75 365.03,73.75" fill="#1f6fe0"/>
<polygon points="364.65,65.74 362.80,69.08 366.51,69.08" fill="#1f6fe0"/>
<polygon points="367.60,61.53 365.75,64.87 369.46,64.87" fill="#1f6fe0"/>
<polygon points="376.46,56.47 374.60,59.81 378.31,59.81" fill="#1f6fe0"/>
<polygon points="391.22,52.65 389.36,55.99 393.07,55.99" fill="#1f6fe0"/>
<polygon points="420.74,49.06 418.88,52.40 422.60,52.40" fill="#1f6fe0"/>
<polygon points="435.50,50.45 433.64,53.79 437.36,53.79" fill="#1f6fe0"/>
<polyline points="362.00,91.04 362.29,87.90 363.18,81.76 364.65,77.80 367.60,74.09 376.46,68.80 391.22,65.20 420.74,61.63 435.50,61.63" fill="none" stroke="#2ea86b" stroke-width="1.1" stroke-linejoin="round"/>
<polygon points="362.00,93.05 360.14,89.71 363.85,89.71" fill="#2ea86b"/>
<polygon points="362.29,89.90 360.44,86.56 364.15,86.56" fill="#2ea86b"/>
<polygon points="363.18,83.76 361.32,80.42 365.03,80.42" fill="#2ea86b"/>
<polygon points="364.65,79.80 362.80,76.46 366.51,76.46" fill="#2ea86b"/>
<polygon points="367.60,76.09 365.75,72.75 369.46,72.75" fill="#2ea86b"/>
<polygon points="376.46,70.81 374.60,67.47 378.31,67.47" fill="#2ea86b"/>
<polygon points="391.22,67.20 389.36,63.86 393.07,63.86" fill="#2ea86b"/>
<polygon points="420.74,63.63 418.88,60.29 422.60,60.29" fill="#2ea86b"/>
<polygon points="435.50,63.63 433.64,60.29 437.36,60.29" fill="#2ea86b"/>
<polyline points="362.00,100.36 362.29,96.22 363.18,91.48 364.65,87.68 367.60,84.64 376.46,79.66 391.22,76.27 420.74,73.20 435.50,72.85" fill="none" stroke="#a56ce6" stroke-width="1.1" stroke-linejoin="round"/>
<polygon points="362.00,98.75 363.61,100.36 362.00,101.97 360.39,100.36" fill="#a56ce6"/>
<polygon points="362.29,94.61 363.90,96.22 362.29,97.83 360.68,96.22" fill="#a56ce6"/>
<polygon points="363.18,89.87 364.79,91.48 363.18,93.09 361.57,91.48" fill="#a56ce6"/>
<polygon points="364.65,86.07 366.26,87.68 364.65,89.29 363.04,87.68" fill="#a56ce6"/>
<polygon points="367.60,83.03 369.21,84.64 367.60,86.25 365.99,84.64" fill="#a56ce6"/>
<polygon points="376.46,78.05 378.07,79.66 376.46,81.27 374.85,79.66" fill="#a56ce6"/>
<polygon points="391.22,74.66 392.83,76.27 391.22,77.88 389.61,76.27" fill="#a56ce6"/>
<polygon points="420.74,71.59 422.35,73.20 420.74,74.81 419.13,73.20" fill="#a56ce6"/>
<polygon points="435.50,71.24 437.11,72.85 435.50,74.46 433.89,72.85" fill="#a56ce6"/>
<polyline points="362.00,103.47 362.29,98.68 363.18,95.26 364.65,91.33 367.60,88.59 376.46,84.18 391.22,80.52 420.74,77.27 435.50,76.89" fill="none" stroke="#d49b16" stroke-width="1.1" stroke-linejoin="round"/>
<polygon points="360.26,103.47 363.15,101.86 363.15,105.08" fill="#d49b16"/>
<polygon points="360.55,98.68 363.45,97.07 363.45,100.29" fill="#d49b16"/>
<polygon points="361.44,95.26 364.34,93.65 364.34,96.87" fill="#d49b16"/>
<polygon points="362.91,91.33 365.81,89.72 365.81,92.94" fill="#d49b16"/>
<polygon points="365.87,88.59 368.76,86.98 368.76,90.20" fill="#d49b16"/>
<polygon points="374.72,84.18 377.62,82.57 377.62,85.79" fill="#d49b16"/>
<polygon points="389.48,80.52 392.38,78.91 392.38,82.13" fill="#d49b16"/>
<polygon points="419.00,77.27 421.90,75.66 421.90,78.88" fill="#d49b16"/>
<polygon points="433.76,76.89 436.66,75.28 436.66,78.50" fill="#d49b16"/>
<path d="M457.6,9.4 V109.5 H545.6" fill="none" stroke="#000" stroke-width="1.5"/>
<path d="M457.6,108.60 H460.0" stroke="#000" stroke-width="0.9"/>
<text x="445.90" y="110.50" font-size="5.6" fill="#111" textLength="8.9" lengthAdjust="spacingAndGlyphs">4000</text>
<path d="M457.6,99.15 H460.0" stroke="#000" stroke-width="0.9"/>
<text x="445.90" y="101.05" font-size="5.6" fill="#111" textLength="8.9" lengthAdjust="spacingAndGlyphs">5000</text>
<path d="M457.6,103.87 H459.0" stroke="#000" stroke-width="0.8"/>
<path d="M457.6,89.70 H460.0" stroke="#000" stroke-width="0.9"/>
<text x="445.90" y="91.60" font-size="5.6" fill="#111" textLength="8.9" lengthAdjust="spacingAndGlyphs">6000</text>
<path d="M457.6,94.42 H459.0" stroke="#000" stroke-width="0.8"/>
<path d="M457.6,80.25 H460.0" stroke="#000" stroke-width="0.9"/>
<text x="445.90" y="82.15" font-size="5.6" fill="#111" textLength="8.9" lengthAdjust="spacingAndGlyphs">7000</text>
<path d="M457.6,84.97 H459.0" stroke="#000" stroke-width="0.8"/>
<path d="M457.6,70.80 H460.0" stroke="#000" stroke-width="0.9"/>
<text x="445.90" y="72.70" font-size="5.6" fill="#111" textLength="8.9" lengthAdjust="spacingAndGlyphs">8000</text>
<path d="M457.6,75.52 H459.0" stroke="#000" stroke-width="0.8"/>
<path d="M457.6,61.35 H460.0" stroke="#000" stroke-width="0.9"/>
<text x="445.90" y="63.25" font-size="5.6" fill="#111" textLength="8.9" lengthAdjust="spacingAndGlyphs">9000</text>
<path d="M457.6,66.08 H459.0" stroke="#000" stroke-width="0.8"/>
<path d="M457.6,51.90 H460.0" stroke="#000" stroke-width="0.9"/>
<text x="443.80" y="53.80" font-size="5.6" fill="#111" textLength="11.0" lengthAdjust="spacingAndGlyphs">10000</text>
<path d="M457.6,56.62 H459.0" stroke="#000" stroke-width="0.8"/>
<path d="M457.6,42.45 H460.0" stroke="#000" stroke-width="0.9"/>
<text x="443.80" y="44.35" font-size="5.6" fill="#111" textLength="11.0" lengthAdjust="spacingAndGlyphs">11000</text>
<path d="M457.6,47.18 H459.0" stroke="#000" stroke-width="0.8"/>
<path d="M457.6,33.00 H460.0" stroke="#000" stroke-width="0.9"/>
<text x="443.80" y="34.90" font-size="5.6" fill="#111" textLength="11.0" lengthAdjust="spacingAndGlyphs">12000</text>
<path d="M457.6,37.73 H459.0" stroke="#000" stroke-width="0.8"/>
<path d="M457.6,23.55 H460.0" stroke="#000" stroke-width="0.9"/>
<text x="443.80" y="25.45" font-size="5.6" fill="#111" textLength="11.0" lengthAdjust="spacingAndGlyphs">13000</text>
<path d="M457.6,28.27 H459.0" stroke="#000" stroke-width="0.8"/>
<path d="M457.6,14.10 H460.0" stroke="#000" stroke-width="0.9"/>
<text x="443.80" y="16.00" font-size="5.6" fill="#111" textLength="11.0" lengthAdjust="spacingAndGlyphs">14000</text>
<path d="M457.6,18.82 H459.0" stroke="#000" stroke-width="0.8"/>
<path d="M464.80,109.5 V107.1" stroke="#000" stroke-width="0.9"/>
<path d="M472.14,109.5 V108.1" stroke="#000" stroke-width="0.8"/>
<text x="464.80" y="117.1" font-size="5.4" text-anchor="middle" fill="#000" stroke="#000" stroke-width="0.12" textLength="2.4" lengthAdjust="spacingAndGlyphs">0</text>
<path d="M479.48,109.5 V107.1" stroke="#000" stroke-width="0.9"/>
<path d="M486.81,109.5 V108.1" stroke="#000" stroke-width="0.8"/>
<text x="479.48" y="117.1" font-size="5.4" text-anchor="middle" fill="#000" stroke="#000" stroke-width="0.12" textLength="2.4" lengthAdjust="spacingAndGlyphs">5</text>
<path d="M494.15,109.5 V107.1" stroke="#000" stroke-width="0.9"/>
<path d="M501.49,109.5 V108.1" stroke="#000" stroke-width="0.8"/>
<text x="494.15" y="117.1" font-size="5.4" text-anchor="middle" fill="#000" stroke="#000" stroke-width="0.12" textLength="4.4" lengthAdjust="spacingAndGlyphs">10</text>
<path d="M508.82,109.5 V107.1" stroke="#000" stroke-width="0.9"/>
<path d="M516.16,109.5 V108.1" stroke="#000" stroke-width="0.8"/>
<text x="508.82" y="117.1" font-size="5.4" text-anchor="middle" fill="#000" stroke="#000" stroke-width="0.12" textLength="4.4" lengthAdjust="spacingAndGlyphs">15</text>
<path d="M523.50,109.5 V107.1" stroke="#000" stroke-width="0.9"/>
<path d="M530.84,109.5 V108.1" stroke="#000" stroke-width="0.8"/>
<text x="523.50" y="117.1" font-size="5.4" text-anchor="middle" fill="#000" stroke="#000" stroke-width="0.12" textLength="4.4" lengthAdjust="spacingAndGlyphs">20</text>
<path d="M538.17,109.5 V107.1" stroke="#000" stroke-width="0.9"/>
<text x="538.17" y="117.1" font-size="5.4" text-anchor="middle" fill="#000" stroke="#000" stroke-width="0.12" textLength="4.4" lengthAdjust="spacingAndGlyphs">25</text>
<text x="494" y="17.1" font-size="7.3" font-weight="bold" fill="#1a1a1a" textLength="40" lengthAdjust="spacingAndGlyphs">PUM-13/B/5.3</text>
<polyline points="465.09,49.92 465.39,44.90 466.27,39.92 467.74,35.48 470.67,31.22 479.48,26.07 494.15,22.03 523.50,17.87 538.17,17.10" fill="none" stroke="#454545" stroke-width="1.1" stroke-linejoin="round"/>
<rect x="463.83" y="48.66" width="2.52" height="2.52" fill="#454545"/>
<rect x="464.13" y="43.64" width="2.52" height="2.52" fill="#454545"/>
<rect x="465.01" y="38.66" width="2.52" height="2.52" fill="#454545"/>
<rect x="466.48" y="34.22" width="2.52" height="2.52" fill="#454545"/>
<rect x="469.41" y="29.96" width="2.52" height="2.52" fill="#454545"/>
<rect x="478.22" y="24.81" width="2.52" height="2.52" fill="#454545"/>
<rect x="492.89" y="20.77" width="2.52" height="2.52" fill="#454545"/>
<rect x="522.24" y="16.61" width="2.52" height="2.52" fill="#454545"/>
<rect x="536.91" y="15.84" width="2.52" height="2.52" fill="#454545"/>
<polyline points="465.09,67.44 465.39,63.10 466.27,58.25 467.74,54.15 470.67,50.09 479.48,44.96 494.15,41.19 523.50,37.95 538.17,36.49" fill="none" stroke="#ef3a3a" stroke-width="1.1" stroke-linejoin="round"/>
<circle cx="465.09" cy="67.44" r="1.8199999999999998" fill="#ef3a3a"/>
<circle cx="465.39" cy="63.10" r="1.8199999999999998" fill="#ef3a3a"/>
<circle cx="466.27" cy="58.25" r="1.8199999999999998" fill="#ef3a3a"/>
<circle cx="467.74" cy="54.15" r="1.8199999999999998" fill="#ef3a3a"/>
<circle cx="470.67" cy="50.09" r="1.8199999999999998" fill="#ef3a3a"/>
<circle cx="479.48" cy="44.96" r="1.8199999999999998" fill="#ef3a3a"/>
<circle cx="494.15" cy="41.19" r="1.8199999999999998" fill="#ef3a3a"/>
<circle cx="523.50" cy="37.95" r="1.8199999999999998" fill="#ef3a3a"/>
<circle cx="538.17" cy="36.49" r="1.8199999999999998" fill="#ef3a3a"/>
<polyline points="465.09,78.71 465.39,74.08 466.27,68.99 467.74,64.74 470.67,59.81 479.48,55.87 494.15,52.40 523.50,48.43 538.17,48.74" fill="none" stroke="#1f6fe0" stroke-width="1.1" stroke-linejoin="round"/>
<polygon points="465.09,76.70 463.24,80.04 466.95,80.04" fill="#1f6fe0"/>
<polygon points="465.39,72.08 463.53,75.41 467.24,75.41" fill="#1f6fe0"/>
<polygon points="466.27,66.98 464.41,70.32 468.12,70.32" fill="#1f6fe0"/>
<polygon points="467.74,62.74 465.88,66.08 469.59,66.08" fill="#1f6fe0"/>
<polygon points="470.67,57.80 468.81,61.14 472.53,61.14" fill="#1f6fe0"/>
<polygon points="479.48,53.87 477.62,57.21 481.33,57.21" fill="#1f6fe0"/>
<polygon points="494.15,50.40 492.30,53.74 496.01,53.74" fill="#1f6fe0"/>
<polygon points="523.50,46.43 521.64,49.76 525.36,49.76" fill="#1f6fe0"/>
<polygon points="538.17,46.73 536.32,50.07 540.03,50.07" fill="#1f6fe0"/>
<polyline points="465.09,90.23 465.39,86.35 466.27,82.10 467.74,78.04 470.67,74.62 479.48,69.73 494.15,66.13 523.50,62.35 538.17,62.17" fill="none" stroke="#2ea86b" stroke-width="1.1" stroke-linejoin="round"/>
<polygon points="465.09,92.24 463.24,88.90 466.95,88.90" fill="#2ea86b"/>
<polygon points="465.39,88.35 463.53,85.01 467.24,85.01" fill="#2ea86b"/>
<polygon points="466.27,84.11 464.41,80.77 468.12,80.77" fill="#2ea86b"/>
<polygon points="467.74,80.04 465.88,76.70 469.59,76.70" fill="#2ea86b"/>
<polygon points="470.67,76.62 468.81,73.28 472.53,73.28" fill="#2ea86b"/>
<polygon points="479.48,71.73 477.62,68.39 481.33,68.39" fill="#2ea86b"/>
<polygon points="494.15,68.13 492.30,64.79 496.01,64.79" fill="#2ea86b"/>
<polygon points="523.50,64.35 521.64,61.01 525.36,61.01" fill="#2ea86b"/>
<polygon points="538.17,64.17 536.32,60.83 540.03,60.83" fill="#2ea86b"/>
<polyline points="465.09,92.43 465.39,88.80 466.27,84.49 467.74,80.62 470.67,76.68 479.48,71.40 494.15,67.71 523.50,64.05 538.17,64.32" fill="none" stroke="#a56ce6" stroke-width="1.1" stroke-linejoin="round"/>
<polygon points="465.09,90.82 466.70,92.43 465.09,94.04 463.48,92.43" fill="#a56ce6"/>
<polygon points="465.39,87.19 467.00,88.80 465.39,90.41 463.78,88.80" fill="#a56ce6"/>
<polygon points="466.27,82.88 467.88,84.49 466.27,86.10 464.66,84.49" fill="#a56ce6"/>
<polygon points="467.74,79.01 469.35,80.62 467.74,82.23 466.12,80.62" fill="#a56ce6"/>
<polygon points="470.67,75.07 472.28,76.68 470.67,78.29 469.06,76.68" fill="#a56ce6"/>
<polygon points="479.48,69.79 481.09,71.40 479.48,73.01 477.87,71.40" fill="#a56ce6"/>
<polygon points="494.15,66.10 495.76,67.71 494.15,69.32 492.54,67.71" fill="#a56ce6"/>
<polygon points="523.50,62.44 525.11,64.05 523.50,65.66 521.89,64.05" fill="#a56ce6"/>
<polygon points="538.17,62.71 539.78,64.32 538.17,65.93 536.56,64.32" fill="#a56ce6"/>
<polyline points="465.09,98.71 465.39,94.02 466.27,90.95 467.74,86.88 470.67,84.11 479.48,79.63 494.15,76.25 523.50,73.24 538.17,73.45" fill="none" stroke="#d49b16" stroke-width="1.1" stroke-linejoin="round"/>
<polygon points="463.35,98.71 466.25,97.10 466.25,100.32" fill="#d49b16"/>
<polygon points="463.65,94.02 466.55,92.41 466.55,95.63" fill="#d49b16"/>
<polygon points="464.53,90.95 467.43,89.34 467.43,92.56" fill="#d49b16"/>
<polygon points="466.00,86.88 468.89,85.27 468.89,88.49" fill="#d49b16"/>
<polygon points="468.93,84.11 471.83,82.50 471.83,85.72" fill="#d49b16"/>
<polygon points="477.74,79.63 480.63,78.02 480.63,81.24" fill="#d49b16"/>
<polygon points="492.41,76.25 495.31,74.64 495.31,77.86" fill="#d49b16"/>
<polygon points="521.76,73.24 524.66,71.63 524.66,74.85" fill="#d49b16"/>
<polygon points="536.44,73.45 539.33,71.84 539.33,75.06" fill="#d49b16"/>
<path d="M354.8,136.0 V236.2 H443.5" fill="none" stroke="#000" stroke-width="1.5"/>
<path d="M354.8,235.60 H357.2" stroke="#000" stroke-width="0.9"/>
<text x="343.10" y="237.50" font-size="5.6" fill="#111" textLength="8.9" lengthAdjust="spacingAndGlyphs">5000</text>
<path d="M354.8,223.20 H357.2" stroke="#000" stroke-width="0.9"/>
<text x="343.10" y="225.10" font-size="5.6" fill="#111" textLength="8.9" lengthAdjust="spacingAndGlyphs">6000</text>
<path d="M354.8,229.40 H356.2" stroke="#000" stroke-width="0.8"/>
<path d="M354.8,210.80 H357.2" stroke="#000" stroke-width="0.9"/>
<text x="343.10" y="212.70" font-size="5.6" fill="#111" textLength="8.9" lengthAdjust="spacingAndGlyphs">7000</text>
<path d="M354.8,217.00 H356.2" stroke="#000" stroke-width="0.8"/>
<path d="M354.8,198.40 H357.2" stroke="#000" stroke-width="0.9"/>
<text x="343.10" y="200.30" font-size="5.6" fill="#111" textLength="8.9" lengthAdjust="spacingAndGlyphs">8000</text>
<path d="M354.8,204.60 H356.2" stroke="#000" stroke-width="0.8"/>
<path d="M354.8,186.00 H357.2" stroke="#000" stroke-width="0.9"/>
<text x="343.10" y="187.90" font-size="5.6" fill="#111" textLength="8.9" lengthAdjust="spacingAndGlyphs">9000</text>
<path d="M354.8,192.20 H356.2" stroke="#000" stroke-width="0.8"/>
<path d="M354.8,173.60 H357.2" stroke="#000" stroke-width="0.9"/>
<text x="341.00" y="175.50" font-size="5.6" fill="#111" textLength="11.0" lengthAdjust="spacingAndGlyphs">10000</text>
<path d="M354.8,179.80 H356.2" stroke="#000" stroke-width="0.8"/>
<path d="M354.8,161.20 H357.2" stroke="#000" stroke-width="0.9"/>
<text x="341.00" y="163.10" font-size="5.6" fill="#111" textLength="11.0" lengthAdjust="spacingAndGlyphs">11000</text>
<path d="M354.8,167.40 H356.2" stroke="#000" stroke-width="0.8"/>
<path d="M354.8,148.80 H357.2" stroke="#000" stroke-width="0.9"/>
<text x="341.00" y="150.70" font-size="5.6" fill="#111" textLength="11.0" lengthAdjust="spacingAndGlyphs">12000</text>
<path d="M354.8,155.00 H356.2" stroke="#000" stroke-width="0.8"/>
<path d="M354.8,136.40 H357.2" stroke="#000" stroke-width="0.9"/>
<text x="341.00" y="138.30" font-size="5.6" fill="#111" textLength="11.0" lengthAdjust="spacingAndGlyphs">13000</text>
<path d="M354.8,142.60 H356.2" stroke="#000" stroke-width="0.8"/>
<path d="M361.80,236.2 V233.79999999999998" stroke="#000" stroke-width="0.9"/>
<path d="M369.20,236.2 V234.79999999999998" stroke="#000" stroke-width="0.8"/>
<text x="361.80" y="243.79999999999998" font-size="5.4" text-anchor="middle" fill="#000" stroke="#000" stroke-width="0.12" textLength="2.4" lengthAdjust="spacingAndGlyphs">0</text>
<path d="M376.60,236.2 V233.79999999999998" stroke="#000" stroke-width="0.9"/>
<path d="M384.00,236.2 V234.79999999999998" stroke="#000" stroke-width="0.8"/>
<text x="376.60" y="243.79999999999998" font-size="5.4" text-anchor="middle" fill="#000" stroke="#000" stroke-width="0.12" textLength="2.4" lengthAdjust="spacingAndGlyphs">5</text>
<path d="M391.40,236.2 V233.79999999999998" stroke="#000" stroke-width="0.9"/>
<path d="M398.80,236.2 V234.79999999999998" stroke="#000" stroke-width="0.8"/>
<text x="391.40" y="243.79999999999998" font-size="5.4" text-anchor="middle" fill="#000" stroke="#000" stroke-width="0.12" textLength="4.4" lengthAdjust="spacingAndGlyphs">10</text>
<path d="M406.20,236.2 V233.79999999999998" stroke="#000" stroke-width="0.9"/>
<path d="M413.60,236.2 V234.79999999999998" stroke="#000" stroke-width="0.8"/>
<text x="406.20" y="243.79999999999998" font-size="5.4" text-anchor="middle" fill="#000" stroke="#000" stroke-width="0.12" textLength="4.4" lengthAdjust="spacingAndGlyphs">15</text>
<path d="M421.00,236.2 V233.79999999999998" stroke="#000" stroke-width="0.9"/>
<path d="M428.40,236.2 V234.79999999999998" stroke="#000" stroke-width="0.8"/>
<text x="421.00" y="243.79999999999998" font-size="5.4" text-anchor="middle" fill="#000" stroke="#000" stroke-width="0.12" textLength="4.4" lengthAdjust="spacingAndGlyphs">20</text>
<path d="M435.80,236.2 V233.79999999999998" stroke="#000" stroke-width="0.9"/>
<text x="435.80" y="243.79999999999998" font-size="5.4" text-anchor="middle" fill="#000" stroke="#000" stroke-width="0.12" textLength="4.4" lengthAdjust="spacingAndGlyphs">25</text>
<text x="391.5" y="139.8" font-size="7.3" font-weight="bold" fill="#1a1a1a" textLength="40" lengthAdjust="spacingAndGlyphs">PUM-13/B/5.6</text>
<polyline points="362.10,177.24 362.39,171.59 363.28,165.00 364.76,160.24 367.72,155.94 376.60,149.65 391.40,145.12 421.00,141.82 435.80,140.18" fill="none" stroke="#454545" stroke-width="1.1" stroke-linejoin="round"/>
<rect x="360.84" y="175.98" width="2.52" height="2.52" fill="#454545"/>
<rect x="361.13" y="170.33" width="2.52" height="2.52" fill="#454545"/>
<rect x="362.02" y="163.74" width="2.52" height="2.52" fill="#454545"/>
<rect x="363.50" y="158.98" width="2.52" height="2.52" fill="#454545"/>
<rect x="366.46" y="154.68" width="2.52" height="2.52" fill="#454545"/>
<rect x="375.34" y="148.39" width="2.52" height="2.52" fill="#454545"/>
<rect x="390.14" y="143.86" width="2.52" height="2.52" fill="#454545"/>
<rect x="419.74" y="140.56" width="2.52" height="2.52" fill="#454545"/>
<rect x="434.54" y="138.92" width="2.52" height="2.52" fill="#454545"/>
<polyline points="362.10,194.23 362.39,189.79 363.28,183.43 364.76,178.52 367.72,173.99 376.60,168.10 391.40,164.45 421.00,160.62 435.80,159.69" fill="none" stroke="#ef3a3a" stroke-width="1.1" stroke-linejoin="round"/>
<circle cx="362.10" cy="194.23" r="1.8199999999999998" fill="#ef3a3a"/>
<circle cx="362.39" cy="189.79" r="1.8199999999999998" fill="#ef3a3a"/>
<circle cx="363.28" cy="183.43" r="1.8199999999999998" fill="#ef3a3a"/>
<circle cx="364.76" cy="178.52" r="1.8199999999999998" fill="#ef3a3a"/>
<circle cx="367.72" cy="173.99" r="1.8199999999999998" fill="#ef3a3a"/>
<circle cx="376.60" cy="168.10" r="1.8199999999999998" fill="#ef3a3a"/>
<circle cx="391.40" cy="164.45" r="1.8199999999999998" fill="#ef3a3a"/>
<circle cx="421.00" cy="160.62" r="1.8199999999999998" fill="#ef3a3a"/>
<circle cx="435.80" cy="159.69" r="1.8199999999999998" fill="#ef3a3a"/>
<polyline points="362.10,204.88 362.39,199.36 363.28,192.68 364.76,187.67 367.72,182.31 376.60,176.08 391.40,171.52 421.00,167.37 435.80,166.97" fill="none" stroke="#1f6fe0" stroke-width="1.1" stroke-linejoin="round"/>
<polygon points="362.10,202.87 360.24,206.21 363.95,206.21" fill="#1f6fe0"/>
<polygon points="362.39,197.36 360.54,200.70 364.25,200.70" fill="#1f6fe0"/>
<polygon points="363.28,190.68 361.43,194.02 365.14,194.02" fill="#1f6fe0"/>
<polygon points="364.76,185.67 362.90,189.01 366.62,189.01" fill="#1f6fe0"/>
<polygon points="367.72,180.30 365.87,183.64 369.58,183.64" fill="#1f6fe0"/>
<polygon points="376.60,174.08 374.75,177.42 378.46,177.42" fill="#1f6fe0"/>
<polygon points="391.40,169.52 389.55,172.86 393.26,172.86" fill="#1f6fe0"/>
<polygon points="421.00,165.37 419.14,168.71 422.86,168.71" fill="#1f6fe0"/>
<polygon points="435.80,164.97 433.94,168.31 437.66,168.31" fill="#1f6fe0"/>
<polyline points="362.10,216.18 362.39,211.69 363.28,204.95 364.76,201.07 367.72,195.36 376.60,189.84 391.40,185.77 421.00,182.16 435.80,181.70" fill="none" stroke="#2ea86b" stroke-width="1.1" stroke-linejoin="round"/>
<polygon points="362.10,218.18 360.24,214.85 363.95,214.85" fill="#2ea86b"/>
<polygon points="362.39,213.69 360.54,210.35 364.25,210.35" fill="#2ea86b"/>
<polygon points="363.28,206.95 361.43,203.62 365.14,203.62" fill="#2ea86b"/>
<polygon points="364.76,203.07 362.90,199.73 366.62,199.73" fill="#2ea86b"/>
<polygon points="367.72,197.36 365.87,194.02 369.58,194.02" fill="#2ea86b"/>
<polygon points="376.60,191.84 374.75,188.50 378.46,188.50" fill="#2ea86b"/>
<polygon points="391.40,187.77 389.55,184.43 393.26,184.43" fill="#2ea86b"/>
<polygon points="421.00,184.17 419.14,180.83 422.86,180.83" fill="#2ea86b"/>
<polygon points="435.80,183.70 433.94,180.36 437.66,180.36" fill="#2ea86b"/>
<polyline points="362.10,223.43 362.39,219.17 363.28,214.00 364.76,209.56 367.72,204.90 376.60,199.14 391.40,195.07 421.00,191.58 435.80,191.58" fill="none" stroke="#a56ce6" stroke-width="1.1" stroke-linejoin="round"/>
<polygon points="362.10,221.82 363.71,223.43 362.10,225.04 360.49,223.43" fill="#a56ce6"/>
<polygon points="362.39,217.56 364.00,219.17 362.39,220.78 360.78,219.17" fill="#a56ce6"/>
<polygon points="363.28,212.39 364.89,214.00 363.28,215.61 361.67,214.00" fill="#a56ce6"/>
<polygon points="364.76,207.95 366.37,209.56 364.76,211.17 363.15,209.56" fill="#a56ce6"/>
<polygon points="367.72,203.29 369.33,204.90 367.72,206.51 366.11,204.90" fill="#a56ce6"/>
<polygon points="376.60,197.53 378.21,199.14 376.60,200.75 374.99,199.14" fill="#a56ce6"/>
<polygon points="391.40,193.46 393.01,195.07 391.40,196.68 389.79,195.07" fill="#a56ce6"/>
<polygon points="421.00,189.97 422.61,191.58 421.00,193.19 419.39,191.58" fill="#a56ce6"/>
<polygon points="435.80,189.97 437.41,191.58 435.80,193.19 434.19,191.58" fill="#a56ce6"/>
<polyline points="362.10,230.49 362.39,225.73 363.28,220.62 364.76,216.09 367.72,211.38 376.60,205.82 391.40,201.74 421.00,198.06 435.80,195.51" fill="none" stroke="#d49b16" stroke-width="1.1" stroke-linejoin="round"/>
<polygon points="360.36,230.49 363.26,228.88 363.26,232.10" fill="#d49b16"/>
<polygon points="360.65,225.73 363.55,224.12 363.55,227.34" fill="#d49b16"/>
<polygon points="361.54,220.62 364.44,219.01 364.44,222.23" fill="#d49b16"/>
<polygon points="363.02,216.09 365.92,214.48 365.92,217.70" fill="#d49b16"/>
<polygon points="365.98,211.38 368.88,209.77 368.88,212.99" fill="#d49b16"/>
<polygon points="374.86,205.82 377.76,204.21 377.76,207.43" fill="#d49b16"/>
<polygon points="389.66,201.74 392.56,200.13 392.56,203.35" fill="#d49b16"/>
<polygon points="419.26,198.06 422.16,196.45 422.16,199.67" fill="#d49b16"/>
<polygon points="434.06,195.51 436.96,193.90 436.96,197.12" fill="#d49b16"/>
<text x="354.5" y="128.7" font-size="9.6" fill="#111" stroke="#111" stroke-width="0.3" textLength="80" lengthAdjust="spacingAndGlyphs">Loading Frequency (Hz)</text>
<text transform="translate(337.2,110.6) rotate(-90)" font-size="8.8" font-weight="bold" fill="#111" textLength="102.6" lengthAdjust="spacingAndGlyphs">Dynamic Modulus (MPa)</text>
<path d="M449.8,171.5 H469.8" stroke="#454545" stroke-width="1.2"/>
<rect x="458.45" y="170.15" width="2.7" height="2.7" fill="#454545"/>
<text x="471.40000000000003" y="174.3" font-size="8.2" font-weight="bold" fill="#111" letter-spacing="-0.35">5<tspan dx="2.4" font-size="6" dy="-1.9">°</tspan><tspan dx="-0.7" dy="1.9" font-size="8.8">C</tspan></text>
<path d="M449.8,184.15 H469.8" stroke="#ef3a3a" stroke-width="1.2"/>
<circle cx="459.80" cy="184.15" r="1.9500000000000002" fill="#ef3a3a"/>
<text x="471.40000000000003" y="186.95000000000002" font-size="8.2" font-weight="bold" fill="#111" letter-spacing="-0.35">15<tspan dx="2.4" font-size="6" dy="-1.9">°</tspan><tspan dx="-0.7" dy="1.9" font-size="8.8">C</tspan></text>
<path d="M449.8,196.8 H469.8" stroke="#1f6fe0" stroke-width="1.2"/>
<polygon points="459.80,194.65 457.81,198.23 461.79,198.23" fill="#1f6fe0"/>
<text x="471.40000000000003" y="199.60000000000002" font-size="8.2" font-weight="bold" fill="#111" letter-spacing="-0.35">25<tspan dx="2.4" font-size="6" dy="-1.9">°</tspan><tspan dx="-0.7" dy="1.9" font-size="8.8">C</tspan></text>
<path d="M509.5,171.5 H529.0" stroke="#2ea86b" stroke-width="1.2"/>
<polygon points="519.25,173.65 517.26,170.07 521.24,170.07" fill="#2ea86b"/>
<text x="530.6" y="174.3" font-size="8.2" font-weight="bold" fill="#111" letter-spacing="-0.35">35<tspan dx="2.4" font-size="6" dy="-1.9">°</tspan><tspan dx="-0.7" dy="1.9" font-size="8.8">C</tspan></text>
<path d="M509.5,184.15 H529.0" stroke="#a56ce6" stroke-width="1.2"/>
<polygon points="519.25,182.43 520.98,184.15 519.25,185.88 517.52,184.15" fill="#a56ce6"/>
<text x="530.6" y="186.95000000000002" font-size="8.2" font-weight="bold" fill="#111" letter-spacing="-0.35">45<tspan dx="2.4" font-size="6" dy="-1.9">°</tspan><tspan dx="-0.7" dy="1.9" font-size="8.8">C</tspan></text>
<path d="M509.5,196.8 H529.0" stroke="#d49b16" stroke-width="1.2"/>
<polygon points="517.39,196.80 520.49,195.08 520.49,198.53" fill="#d49b16"/>
<text x="530.6" y="199.60000000000002" font-size="8.2" font-weight="bold" fill="#111" letter-spacing="-0.35">55<tspan dx="2.4" font-size="6" dy="-1.9">°</tspan><tspan dx="-0.7" dy="1.9" font-size="8.8">C</tspan></text>
</g>
</svg>
</body></html>
